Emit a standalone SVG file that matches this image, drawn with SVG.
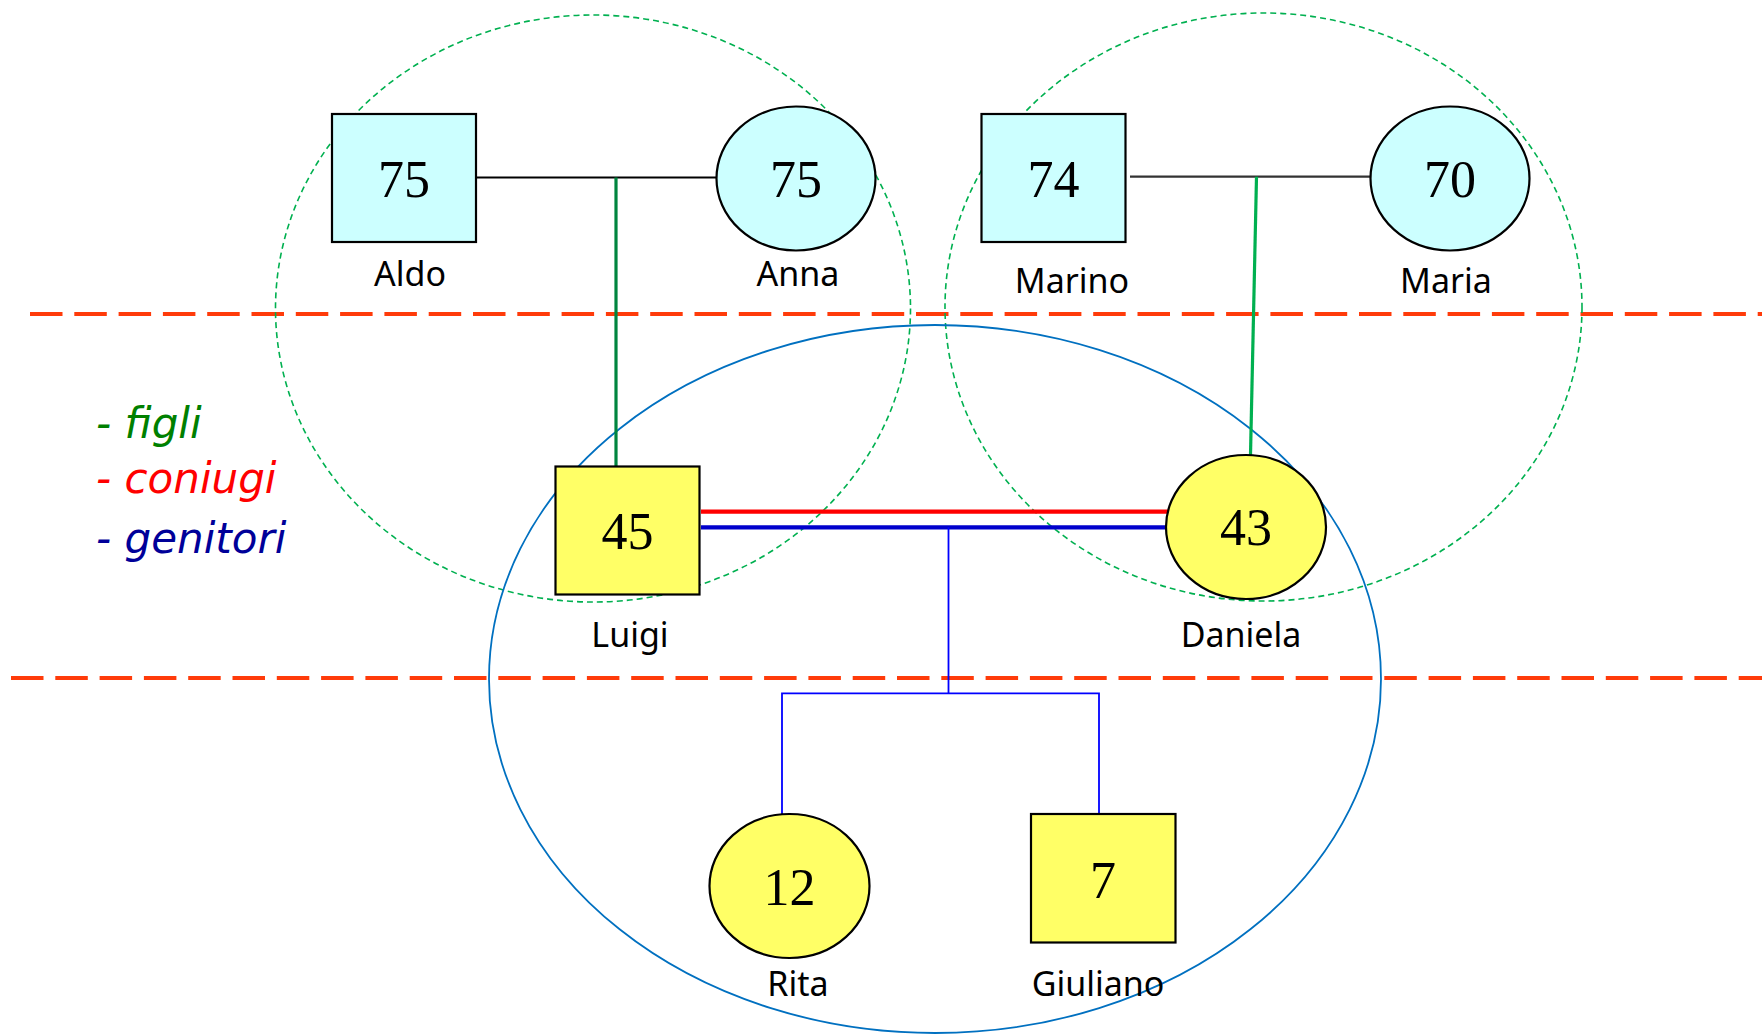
<svg xmlns="http://www.w3.org/2000/svg" width="1762" height="1035" viewBox="0 0 1762 1035">
<style>
.sep{fill:none;stroke:#FF3B0A;stroke-width:4;stroke-dasharray:32.5 11.8}
.grp{fill:none;stroke:#00B050;stroke-width:1.6;stroke-dasharray:6 4}
.fam{fill:none;stroke:#0070C0;stroke-width:1.8}
.old{fill:#CCFFFF;stroke:#000;stroke-width:2.2}
.young{fill:#FFFF66;stroke:#000;stroke-width:2.2}
.age{font-family:"Liberation Serif",serif;font-size:52px;fill:#000;text-anchor:middle}
.name{font-family:"Noto Sans",sans-serif;font-size:34px;fill:#000;text-anchor:middle}
.leg{font-family:"DejaVu Sans",sans-serif;font-style:italic;font-size:42px}
</style>
<rect width="1762" height="1035" fill="#fff"/>
<g id="separators">
<line class="sep" x1="30" y1="314" x2="1762" y2="314"/>
<line class="sep" x1="11" y1="678" x2="1762" y2="678"/>
</g>
<g id="groups">
<ellipse class="grp" cx="593" cy="308.5" rx="317.5" ry="293.5"/>
<ellipse class="grp" cx="1263.5" cy="307" rx="318.5" ry="294"/>
<ellipse class="fam" cx="935" cy="679" rx="446" ry="354"/>
</g>
<g id="connectors">
<line x1="476" y1="177.5" x2="716" y2="177.5" stroke="#000" stroke-width="2"/>
<line x1="616" y1="177.5" x2="616" y2="466" stroke="#00853F" stroke-width="3.2"/>
<line x1="1130" y1="176.7" x2="1370" y2="176.7" stroke="#333" stroke-width="2.2"/>
<line x1="1256.5" y1="176.7" x2="1250.5" y2="455" stroke="#00B050" stroke-width="3.2"/>
<line x1="701" y1="511.7" x2="1168" y2="511.7" stroke="#FF0000" stroke-width="4.2"/>
<line x1="701" y1="527.3" x2="1168" y2="527.3" stroke="#0000CC" stroke-width="4.2"/>
<polyline points="948.5,527.3 948.5,693.3" fill="none" stroke="#0000FF" stroke-width="1.8"/>
<polyline points="782,814 782,693.3 1099,693.3 1099,814" fill="none" stroke="#0000FF" stroke-width="1.8"/>
</g>
<g id="legend">
<text class="leg" x="96" y="438" fill="#008000">- figli</text>
<text class="leg" x="96" y="493" fill="#FF0000">- coniugi</text>
<text class="leg" x="96" y="553" fill="#000099">- genitori</text>
</g>
<g id="aldo">
<rect class="old" x="332" y="114" width="144" height="128"/>
<text class="age" x="404" y="197">75</text>
<text class="name" x="410" y="286">Aldo</text>
</g>
<g id="anna">
<ellipse class="old" cx="796" cy="178.5" rx="79.5" ry="72"/>
<text class="age" x="796" y="197">75</text>
<text class="name" x="798" y="286">Anna</text>
</g>
<g id="marino">
<rect class="old" x="981.5" y="114" width="144" height="128"/>
<text class="age" x="1053.5" y="197">74</text>
<text class="name" x="1072" y="293">Marino</text>
</g>
<g id="maria">
<ellipse class="old" cx="1450" cy="178.5" rx="79.5" ry="72"/>
<text class="age" x="1450" y="197">70</text>
<text class="name" x="1446" y="293">Maria</text>
</g>
<g id="luigi">
<rect class="young" x="555.5" y="466.5" width="144" height="128"/>
<text class="age" x="627.5" y="549">45</text>
<text class="name" x="630" y="647">Luigi</text>
</g>
<g id="daniela">
<ellipse class="young" cx="1246" cy="527" rx="80" ry="72"/>
<text class="age" x="1246" y="545">43</text>
<text class="name" x="1241" y="647">Daniela</text>
</g>
<g id="rita">
<ellipse class="young" cx="789.5" cy="886" rx="80" ry="72"/>
<text class="age" x="789.5" y="905">12</text>
<text class="name" x="798" y="996">Rita</text>
</g>
<g id="giuliano">
<rect class="young" x="1031" y="814" width="144.5" height="128.5"/>
<text class="age" x="1103" y="898">7</text>
<text class="name" x="1098" y="996">Giuliano</text>
</g>
</svg>
